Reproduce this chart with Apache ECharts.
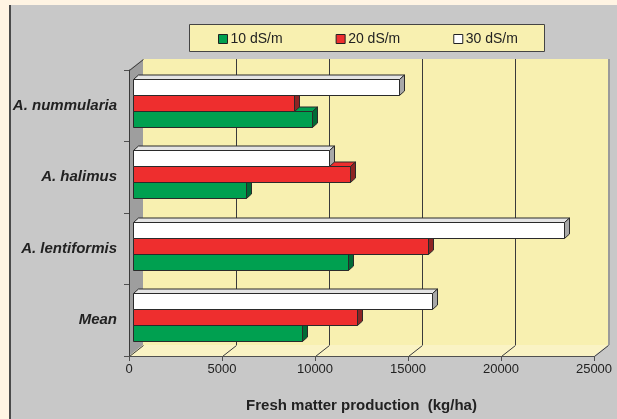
<!DOCTYPE html>
<html><head><meta charset="utf-8">
<script src="https://cdn.jsdelivr.net/npm/echarts@6/dist/echarts.min.js"></script>
<style>
html,body{margin:0;padding:0;background:#FFF4E3;overflow:hidden;}
#panel{position:absolute;left:9px;top:5px;width:606px;height:414px;background:#C8C8C8;border-left:2px solid #4A4A4A;}
#chart{position:absolute;left:0;top:0;width:617px;height:419px;}
</style></head>
<body><div id="panel"></div><div id="chart"></div>
<script>
// ---- data ----
const categories = ['A. nummularia', 'A. halimus', 'A. lentiformis', 'Mean'];
const seriesNames = ['10 dS/m', '20 dS/m', '30 dS/m'];
const ec10 = [9610, 6090, 11580, 9090];
const ec20 = [8670, 11640, 15840, 12050];
const ec30 = [14290, 10530, 23150, 16060];
const xMin = 0, xMax = 25000, xStep = 5000;
const axisTitle = 'Fresh matter production  (kg/ha)';

// ---- layout / style ----
const FONT = "'Liberation Sans', Arial, sans-serif";
const FRONT = {left: 129, top: 70, width: 465, height: 286};
const DEPTH = {dx: 14, dy: -11};
const WALL = '#F8F0B0';
const palette = [
  {front: '#00A050', top: '#00A050', side: '#006B36'},
  {front: '#EE2E2E', top: '#EE2E2E', side: '#8E2424'},
  {front: '#FFFFFF', top: '#E4E4E4', side: '#A8A8A8'}
];
const OUTLINE = '#2A2A2A';

function bar3d(idx) {
  const c = palette[idx];
  return function (params, api) {
    const v = api.value(0), cat = api.value(1);
    const p0 = api.coord([0, cat]);
    const p1 = api.coord([v, cat]);
    const band = api.size([0, 1])[1];
    const h = Math.round(band * 0.224);
    const center = p0[1] - band * 0.042;
    const y0 = Math.round(center - 1.5 * h + (2 - idx) * h) + 0.5;
    const y1 = y0 + h;
    const x0 = Math.round(p0[0] + 4) + 0.5;
    const x1 = Math.round(p1[0] + 4) + 0.5;
    const dx = 5, dy = 4.5;
    const st = {stroke: OUTLINE, lineWidth: 1};
    return {
      type: 'group',
      children: [
        {type: 'polygon', shape: {points: [[x0, y0], [x0 + dx, y0 - dy], [x1 + dx, y0 - dy], [x1, y0]]},
          style: Object.assign({fill: c.top}, st)},
        {type: 'polygon', shape: {points: [[x1, y0], [x1 + dx, y0 - dy], [x1 + dx, y1 - dy], [x1, y1]]},
          style: Object.assign({fill: c.side}, st)},
        {type: 'rect', shape: {x: x0, y: y0, width: x1 - x0, height: h},
          style: Object.assign({fill: c.front}, st)}
      ]
    };
  };
}

const dataSets = [ec10, ec20, ec30];
const chart = echarts.init(document.getElementById('chart'), null, {renderer: 'canvas'});

const option = {
  animation: false,
  backgroundColor: 'transparent',
  textStyle: {fontFamily: FONT},
  grid: [
    {left: FRONT.left, top: FRONT.top, width: FRONT.width, height: FRONT.height, show: false},
    {left: FRONT.left + DEPTH.dx, top: FRONT.top + DEPTH.dy, width: FRONT.width, height: FRONT.height,
      show: true, backgroundColor: WALL, borderWidth: 0}
  ],
  legend: {
    data: seriesNames.map(n => ({name: n, icon: 'rect'})),
    left: 218, top: 32, padding: 0,
    itemWidth: 9, itemHeight: 9, itemGap: 53,
    itemStyle: {borderColor: '#222', borderWidth: 1},
    textStyle: {fontFamily: FONT, fontSize: 14, color: '#222', padding: [0, 0, 0, -2]},
    selectedMode: false
  },
  xAxis: [
    {gridIndex: 0, type: 'value', min: xMin, max: xMax, interval: xStep, z: 5,
      axisLine: {show: true, lineStyle: {color: '#505050', width: 1}},
      axisTick: {show: true, length: 5, lineStyle: {color: '#505050'}},
      axisLabel: {fontFamily: FONT, fontSize: 13, color: '#222', margin: 7, formatter: v => String(v)},
      splitLine: {show: false},
      name: axisTitle, nameLocation: 'middle', nameGap: 42,
      nameTextStyle: {fontFamily: FONT, fontSize: 15, fontWeight: 'bold', color: '#222'}},
    {gridIndex: 1, type: 'value', min: xMin, max: xMax, interval: xStep,
      axisLine: {show: false}, axisTick: {show: false}, axisLabel: {show: false},
      splitLine: {show: true, showMinLine: false, showMaxLine: false, lineStyle: {color: '#3A3A3A', width: 1}}}
  ],
  yAxis: [
    {gridIndex: 0, type: 'category', data: categories, inverse: true, z: 5,
      axisLine: {show: true, lineStyle: {color: '#3A3A3A'}},
      axisTick: {show: true, length: 5, lineStyle: {color: '#505050'}},
      axisLabel: {fontFamily: FONT, fontSize: 15, fontWeight: 'bold', fontStyle: 'italic', color: '#222', margin: 12},
      splitLine: {show: false}},
    {gridIndex: 1, type: 'category', data: categories, inverse: true, show: false}
  ],
  series: dataSets.map((arr, i) => ({
    name: seriesNames[i],
    type: 'custom',
    coordinateSystem: 'cartesian2d',
    xAxisIndex: 0, yAxisIndex: 0,
    z: 4,
    itemStyle: {color: palette[i].front, borderColor: '#222', borderWidth: 1},
    encode: {x: 0, y: 1},
    renderItem: bar3d(i),
    data: arr.map((v, k) => [v, k])
  }))
};
chart.setOption(option);

// ---- decorations: walls, floor, legend box ----
const fx = v => chart.convertToPixel({xAxisIndex: 0}, v);
const L = FRONT.left, T = FRONT.top, B = FRONT.top + FRONT.height;
const R = fx(xMax);
const dx = DEPTH.dx, dy = DEPTH.dy;
const gfx = [];
gfx.push({type: 'rect', z: 0, shape: {x: 189.5, y: 24.5, width: 355, height: 27},
  style: {fill: WALL, stroke: '#444', lineWidth: 1}});
// left side wall
gfx.push({type: 'polygon', z: 1, shape: {points: [[L, T], [L + dx, T + dy], [L + dx, B + dy], [L, B]]},
  style: {fill: '#9E9E9E'}});
gfx.push({type: 'line', z: 1, shape: {x1: L + 0.5, y1: T + 0.5, x2: L + dx + 0.5, y2: T + dy + 0.5},
  style: {stroke: '#3A3A3A', lineWidth: 1}});
// floor
gfx.push({type: 'polygon', z: 1, shape: {points: [[L, B], [L + dx, B + dy], [R + dx, B + dy], [R, B]]},
  style: {fill: '#FAF3C4'}});
for (let v = xMin; v <= xMax; v += xStep) {
  const x = Math.round(fx(v)) + 0.5;
  gfx.push({type: 'line', z: 1, shape: {x1: x, y1: B + 0.5, x2: x + dx, y2: B + dy + 0.5},
    style: {stroke: '#3A3A3A', lineWidth: 1}});
}
// right shadow of back wall
gfx.push({type: 'rect', z: 1, shape: {x: R + dx, y: T + dy, width: 2, height: FRONT.height},
  style: {fill: '#9A9A9A'}});
chart.setOption({graphic: {elements: gfx}});
</script></body></html>
